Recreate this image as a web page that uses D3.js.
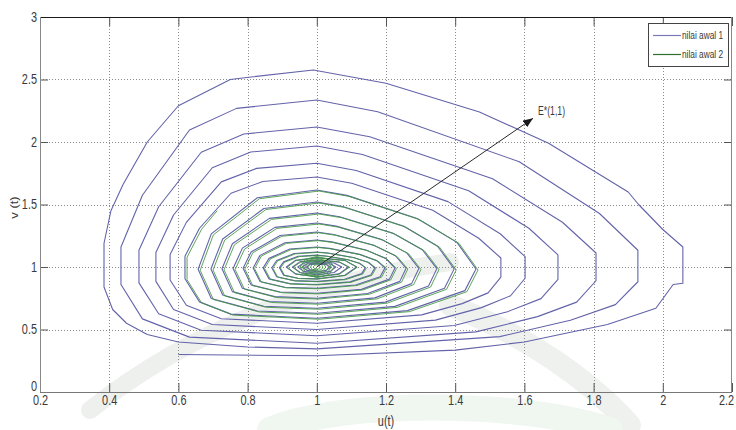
<!DOCTYPE html>
<html>
<head>
<meta charset="utf-8">
<script src="https://cdn.jsdelivr.net/npm/d3@7"></script>
<style>
  body { margin: 0; background: #fff; }
  svg { display: block; }
  text { font-family: "Liberation Sans Narrow", "Arial Narrow", "Liberation Sans", Arial, sans-serif; fill: #3a3a3a; }
</style>
</head>
<body>
<svg id="chart" width="736" height="430"></svg>
<script>
// Axis ticks
const xTicks = [0.2, 0.4, 0.6, 0.8, 1, 1.2, 1.4, 1.6, 1.8, 2, 2.2];
const yTicks = [0, 0.5, 1, 1.5, 2, 2.5, 3];
const xLabel = "u(t)";
const yLabel = "v (t)";
const seriesNames = ["nilai awal 1", "nilai awal 2"];
const seriesColors = ["#6363aa", "#3f963f"];

// Equilibrium annotation
const equilibrium = [1, 1];
const arrowTip = [1.625, 2.19];
const equilibriumLabel = "E*(1,1)";

// Trajectory from initial value 1: [u, v]
const trajectory1 = [
  [0.6,0.30],[1.0,0.29],[1.4,0.335],[1.6,0.40],[1.84,0.54],[1.98,0.67],[2.03,0.86],[2.058,0.87],[2.058,1.16],[2.0,1.30],[1.93,1.50],[1.90,1.60],[1.67,1.99],[1.47,2.24],[1.20,2.47],[0.99,2.576],[0.81,2.52],[0.75,2.50],[0.60,2.29],[0.51,2.00],[0.44,1.66],[0.405,1.45],[0.385,1.19],[0.385,0.84],[0.41,0.66],[0.45,0.55],[0.51,0.46],[0.60,0.40],[0.80,0.36],
  [1,0.345],[1.529,0.443],[1.733,0.574],[1.863,0.699],[1.928,0.882],[1.928,1.134],[1.817,1.428],[1.585,1.842],[1.176,2.242],[1,2.336],[0.768,2.269],[0.632,2.096],[0.496,1.574],[0.434,1.16],[0.434,0.86],[0.496,0.585],[0.632,0.439],
  [1,0.39],[1.46,0.481],[1.638,0.603],[1.751,0.719],[1.807,0.89],[1.807,1.112],[1.71,1.358],[1.508,1.706],[1.153,2.042],[1,2.12],[0.789,2.064],[0.666,1.918],[0.543,1.482],[0.486,1.134],[0.486,0.873],[0.543,0.626],[0.666,0.494],
  [1,0.45],[1.397,0.532],[1.551,0.642],[1.648,0.747],[1.697,0.901],[1.697,1.097],[1.613,1.31],[1.439,1.61],[1.132,1.9],[1,1.968],[0.809,1.92],[0.698,1.794],[0.586,1.416],[0.535,1.116],[0.535,0.885],[0.586,0.66],[0.698,0.54],
  [1,0.50],[1.343,0.575],[1.476,0.675],[1.56,0.77],[1.602,0.91],[1.602,1.083],[1.53,1.266],[1.379,1.523],[1.114,1.772],[1,1.83],[0.826,1.789],[0.724,1.681],[0.623,1.357],[0.576,1.10],[0.576,0.896],[0.623,0.694],[0.724,0.586],
  [1,0.55],[1.303,0.617],[1.42,0.707],[1.495,0.793],[1.532,0.919],[1.532,1.072],[1.468,1.23],[1.335,1.454],[1.101,1.67],[1,1.72],[0.844,1.684],[0.752,1.59],[0.661,1.31],[0.619,1.086],[0.619,0.906],[0.661,0.721],[0.752,0.623],
  [1,0.59],[1.262,0.651],[1.428,0.811],[1.46,0.984],[1.405,1.197],[1.29,1.388],[1.087,1.573],[1,1.616],[0.828,1.554],[0.695,1.265],[0.657,0.982],[0.695,0.748],[0.828,0.648],
  [1,0.63],[1.226,0.685],[1.369,0.83],[1.397,0.985],[1.349,1.166],[1.25,1.328],[1.075,1.484],[1,1.52],[0.847,1.468],[0.728,1.224],[0.694,0.984],[0.728,0.776],[0.847,0.686],
  [1,0.67],[1.198,0.719],[1.323,0.848],[1.347,0.987],[1.305,1.138],[1.219,1.272],[1.066,1.402],[1,1.432],[0.863,1.389],[0.756,1.186],[0.726,0.986],[0.756,0.803],[0.863,0.724],
  [1,0.71],[1.168,0.753],[1.274,0.867],[1.295,0.988],[1.26,1.113],[1.186,1.222],[1.056,1.327],[1,1.352],[0.879,1.317],[0.785,1.151],[0.758,0.988],[0.785,0.83],[0.879,0.763],
  [1,0.75],[1.147,0.788],[1.24,0.885],[1.258,0.99],[1.227,1.09],[1.163,1.176],[1.049,1.26],[1,1.28],[0.894,1.252],[0.81,1.12],[0.787,0.99],[0.81,0.857],[0.894,0.8],
  [1,0.79],[1.129,0.821],[1.21,0.903],[1.226,0.992],[1.199,1.069],[1.142,1.136],[1.043,1.201],[1,1.216],[0.908,1.194],[0.836,1.093],[0.816,0.992],[0.836,0.884],[0.908,0.838],
  [1,0.83],[1.112,0.856],[1.183,0.922],[1.197,0.993],[1.173,1.051],[1.124,1.101],[1.037,1.149],[1,1.16],[0.922,1.144],[0.862,1.069],[0.845,0.993],[0.862,0.905],[0.922,0.867],
  [1,0.86],[1.096,0.881],[1.156,0.936],[1.168,0.994],[1.148,1.038],[1.106,1.076],[1.032,1.112],[1,1.12],[0.935,1.108],[0.884,1.052],[0.87,0.994],[0.884,0.922],[0.935,0.891],
  [1,0.885],[1.08,0.902],[1.13,0.947],[1.14,0.995],[1.123,1.03],[1.088,1.06],[1.027,1.088],[1,1.095],[0.946,1.086],[0.904,1.041],[0.892,0.995],[0.904,0.935],[0.946,0.91],
  [1,0.905],[1.081,0.934],[1.115,1.0],[1.081,1.053],[1,1.075],[0.938,1.053],[0.912,1.0],[0.938,0.945],
  [1,0.922],[1.064,0.945],[1.092,1.0],[1.064,1.041],[1,1.058],[0.951,1.041],[0.93,1.0],[0.951,0.956],
  [1,0.937],[1.05,0.956],[1.072,1],[1.05,1.032],[1,1.045],[0.962,1.032],[0.945,1],[0.962,0.965],
  [1,0.95],[1.039,0.965],[1.055,1],[1.039,1.024],[1,1.034],[0.971,1.024],[0.958,1],[0.971,0.973],
  [1,0.962],[1.028,0.973],[1.04,1],[1.028,1.018],[1,1.025],[0.979,1.018],[0.97,1],[0.979,0.98],[1,0.972]
];

// Trajectory from initial value 2: [u, v]
const trajectory2 = [
  [0.712,1.45],[0.667,1.302],[0.625,1.078],[0.625,0.898],[0.667,0.713],[0.758,0.615],
  [1.006,0.582],[1.268,0.643],[1.434,0.803],[1.466,0.976],[1.411,1.189],[1.296,1.38],[1.093,1.565],[1.006,1.608],[0.834,1.546],[0.701,1.257],[0.663,0.974],[0.701,0.74],[0.834,0.64],
  [1.006,0.622],[1.232,0.677],[1.375,0.822],[1.403,0.977],[1.355,1.158],[1.256,1.32],[1.081,1.476],[1.006,1.512],[0.853,1.46],[0.734,1.216],[0.7,0.976],[0.734,0.768],[0.853,0.678],
  [1.006,0.662],[1.204,0.711],[1.329,0.84],[1.353,0.979],[1.311,1.13],[1.225,1.264],[1.072,1.394],[1.006,1.424],[0.869,1.381],[0.762,1.178],[0.732,0.978],[0.762,0.795],[0.869,0.716],
  [1.006,0.702],[1.174,0.745],[1.28,0.859],[1.301,0.98],[1.266,1.105],[1.192,1.214],[1.062,1.319],[1.006,1.344],[0.885,1.309],[0.791,1.143],[0.764,0.98],[0.791,0.822],[0.885,0.755],
  [1.005,0.744],[1.152,0.782],[1.245,0.879],[1.263,0.984],[1.232,1.084],[1.168,1.17],[1.054,1.254],[1.005,1.274],[0.899,1.246],[0.815,1.114],[0.792,0.984],[0.815,0.851],[0.899,0.794],
  [1.004,0.785],[1.133,0.816],[1.214,0.898],[1.23,0.987],[1.203,1.064],[1.146,1.131],[1.047,1.196],[1.004,1.211],[0.912,1.189],[0.84,1.088],[0.82,0.987],[0.84,0.879],[0.912,0.833],
  [1.004,0.826],[1.116,0.852],[1.187,0.918],[1.201,0.989],[1.177,1.047],[1.128,1.097],[1.041,1.145],[1.004,1.156],[0.926,1.14],[0.866,1.065],[0.849,0.989],[0.866,0.901],[0.926,0.863],
  [1.003,0.857],[1.099,0.878],[1.159,0.933],[1.171,0.991],[1.151,1.035],[1.109,1.073],[1.035,1.109],[1.003,1.117],[0.938,1.105],[0.887,1.049],[0.873,0.991],[0.887,0.919],[0.938,0.888],
  [1.003,0.882],[1.083,0.899],[1.133,0.944],[1.143,0.992],[1.126,1.027],[1.091,1.057],[1.03,1.085],[1.003,1.092],[0.949,1.083],[0.907,1.038],[0.895,0.992],[0.907,0.932],[0.949,0.907],
  [1.002,0.903],[1.083,0.932],[1.117,0.998],[1.083,1.051],[1.002,1.073],[0.94,1.051],[0.914,0.998],[0.94,0.943],
  [1.002,0.92],[1.066,0.943],[1.094,0.998],[1.066,1.039],[1.002,1.056],[0.953,1.039],[0.932,0.998],[0.953,0.954],
  [1,0.915],[1.035,0.94],[1.05,1],[1.035,1.06],[1,1.085],[0.966,1.06],[0.952,1],[0.966,0.94],
  [1,0.93],[1.03,0.951],[1.042,1],[1.03,1.049],[1,1.07],[0.97,1.049],[0.958,1],[0.97,0.951],
  [1,0.944],[1.024,0.96],[1.034,1],[1.024,1.04],[1,1.056],[0.976,1.04],[0.966,1],[0.976,0.96],
  [1,0.957],[1.018,0.97],[1.026,1],[1.018,1.03],[1,1.043],[0.982,1.03],[0.974,1],[0.982,0.97],
  [1,0.97],[1.013,0.979],[1.018,1],[1.013,1.021],[1,1.03],[0.987,1.021],[0.982,1],[0.987,0.979],
  [1,0.982],[1.007,0.987],[1.01,1],[1.007,1.013],[1,1.018],[0.993,1.013],[0.99,1],[0.993,0.987],[1,0.99]
];

const svg = d3.select("#chart");
const plotLeft = 40, plotRight = 732, plotTop = 17, plotBottom = 392;
const x = d3.scaleLinear().domain([0.2, 2.2]).range([plotLeft, plotRight]);
const y = d3.scaleLinear().domain([0, 3]).range([plotBottom, plotTop]);
const fmt = d3.format("~g");
const squeeze = 0.78;

// faint background emblem
const bg = svg.append("g").attr("fill", "none").attr("stroke-linecap", "round");
bg.append("path").attr("d", "M90,410 C190,330 320,280 450,262").attr("stroke", "#eef0ee").attr("stroke-width", 18);
bg.append("path").attr("d", "M450,305 C525,335 590,380 630,425").attr("stroke", "#eff1ef").attr("stroke-width", 22);
bg.append("path").attr("d", "M270,430 C340,400 520,400 610,430").attr("stroke", "#f0f6f0").attr("stroke-width", 26);

// grid
const grid = svg.append("g").attr("stroke", "#8c8c8c").attr("stroke-width", 1).attr("stroke-dasharray", "1,2");
grid.selectAll("line.gx").data(xTicks.slice(1, -1)).join("line")
  .attr("x1", d => Math.round(x(d)) + 0.5).attr("x2", d => Math.round(x(d)) + 0.5)
  .attr("y1", plotTop).attr("y2", plotBottom);
grid.selectAll("line.gy").data(yTicks.slice(1, -1)).join("line")
  .attr("y1", d => Math.round(y(d)) + 0.5).attr("y2", d => Math.round(y(d)) + 0.5)
  .attr("x1", plotLeft).attr("x2", plotRight);

// trajectories
const line = d3.line().x(d => x(d[0])).y(d => y(d[1]));
svg.append("path").datum(trajectory1).attr("d", line)
  .attr("fill", "none").attr("stroke", seriesColors[0]).attr("stroke-width", 1.1).attr("stroke-linejoin", "round");
svg.append("path").datum(trajectory2).attr("d", line)
  .attr("fill", "none").attr("stroke", seriesColors[1]).attr("stroke-width", 1).attr("stroke-opacity", 0.85).attr("stroke-linejoin", "round");

// axes (inward ticks on all four sides)
function styleAxis(g) {
  g.select(".domain").remove();
  g.selectAll(".tick line").attr("stroke", "#555");
}
const xAxis = svg.append("g").attr("transform", `translate(0,${plotBottom})`)
  .call(d3.axisBottom(x).tickValues(xTicks).tickFormat(fmt).tickSize(-9).tickPadding(3));
styleAxis(xAxis);
xAxis.selectAll(".tick text").attr("font-size", 14).attr("fill", "#444")
  .attr("transform", d => d === xTicks[xTicks.length - 1] ? `translate(-6,0) scale(${squeeze},1)` : `scale(${squeeze},1)`);
const yAxis = svg.append("g").attr("transform", `translate(${plotLeft},0)`)
  .call(d3.axisLeft(y).tickValues(yTicks).tickFormat(fmt).tickSize(-8).tickPadding(3));
styleAxis(yAxis);
yAxis.selectAll(".tick text").attr("font-size", 14).attr("fill", "#444")
  .attr("x", -3 / squeeze)
  .attr("transform", d => d === yTicks[0] ? `translate(0,-6) scale(${squeeze},1)` : `scale(${squeeze},1)`);
const xTop = svg.append("g").attr("transform", `translate(0,${plotTop})`)
  .call(d3.axisTop(x).tickValues(xTicks).tickFormat("").tickSize(-9));
styleAxis(xTop);
const yRight = svg.append("g").attr("transform", `translate(${plotRight},0)`)
  .call(d3.axisRight(y).tickValues(yTicks).tickFormat("").tickSize(-8));
styleAxis(yRight);

// box
svg.append("line").attr("x1", plotLeft).attr("x2", plotRight).attr("y1", plotTop + 0.5).attr("y2", plotTop + 0.5).attr("stroke", "#1a1a1a");
svg.append("line").attr("x1", plotLeft).attr("x2", plotRight).attr("y1", plotBottom + 0.5).attr("y2", plotBottom + 0.5).attr("stroke", "#777");
svg.append("line").attr("x1", plotLeft + 0.5).attr("x2", plotLeft + 0.5).attr("y1", plotTop).attr("y2", plotBottom).attr("stroke", "#888");
svg.append("line").attr("x1", plotRight - 0.5).attr("x2", plotRight - 0.5).attr("y1", plotTop).attr("y2", plotBottom).attr("stroke", "#888");

// axis labels
svg.append("text").attr("transform", `translate(${x(1.2)},426) scale(${squeeze},1)`)
  .attr("text-anchor", "middle").attr("font-size", 14).attr("fill", "#444").text(xLabel);
svg.append("text").attr("transform", `translate(18,${y(1.5) + 3}) rotate(-90) scale(1,${squeeze})`)
  .attr("text-anchor", "middle").attr("font-size", 13).attr("fill", "#444").text(yLabel);

// equilibrium arrow
const defs = svg.append("defs");
defs.append("marker").attr("id", "head").attr("viewBox", "0 0 10 8")
  .attr("refX", 10).attr("refY", 4).attr("markerWidth", 10).attr("markerHeight", 8)
  .attr("markerUnits", "userSpaceOnUse").attr("orient", "auto")
  .append("path").attr("d", "M0,0 L10,4 L0,8 Z").attr("fill", "#1a1a1a");
svg.append("line")
  .attr("x1", x(equilibrium[0])).attr("y1", y(equilibrium[1]))
  .attr("x2", x(arrowTip[0])).attr("y2", y(arrowTip[1]))
  .attr("stroke", "#2a2a2a").attr("stroke-width", 1).attr("marker-end", "url(#head)");
svg.append("text").attr("x", x(arrowTip[0]) + 5).attr("y", y(arrowTip[1]) - 3)
  .attr("font-size", 13).attr("fill", "#333").attr("textLength", 27).attr("lengthAdjust", "spacingAndGlyphs")
  .text(equilibriumLabel);

// legend
const lg = svg.append("g");
lg.append("rect").attr("x", 648.5).attr("y", 23.5).attr("width", 80).attr("height", 43)
  .attr("fill", "#fff").attr("stroke", "#444");
seriesNames.forEach((name, i) => {
  const ly = 35 + i * 19;
  lg.append("line").attr("x1", 653).attr("x2", 681).attr("y1", ly + 0.5).attr("y2", ly + 0.5)
    .attr("stroke", i === 0 ? "#7a7ab8" : "#2f6f2f").attr("stroke-width", 1.2);
  lg.append("text").attr("x", 682).attr("y", ly + 4).attr("font-size", 10.5).attr("fill", "#333")
    .attr("textLength", 41).attr("lengthAdjust", "spacingAndGlyphs").text(name);
});
</script>
</body>
</html>
